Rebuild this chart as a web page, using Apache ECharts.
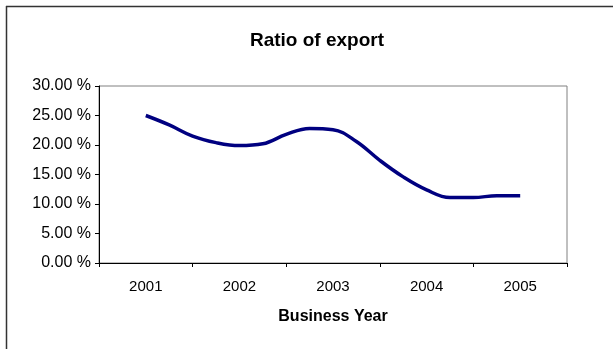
<!DOCTYPE html>
<html>
<head>
<meta charset="utf-8">
<script src="https://cdn.jsdelivr.net/npm/echarts@6/dist/echarts.min.js"></script>
<style>
  html, body { margin: 0; padding: 0; background: #ffffff; }
  #chart { width: 613px; height: 349px; }
</style>
</head>
<body>
<div id="chart"></div>
<script>
// Business years shown on the category axis
var years = ['2001', '2002', '2003', '2004', '2005'];

// Export ratio (%) sampled each quarter, from mid-2001 to mid-2005
var exportRatio = [25.0, 23.4, 21.5, 20.4, 19.9, 20.2, 21.8, 22.8, 22.6,
                   20.6, 17.4, 14.6, 12.4, 11.1, 11.1, 11.4, 11.4];

// Value-axis ticks
var yMin = 0, yMax = 30, yStep = 5;

// Each sample sits a quarter of a year after the previous one,
// starting at the centre of the first year's category slot.
var linePoints = exportRatio.map(function (v, i) {
  return [0.5 + i * 0.25, v];
});

var font = 'Liberation Sans, Arial, sans-serif';
var chart = echarts.init(document.getElementById('chart'), null, { renderer: 'canvas' });

chart.setOption({
  backgroundColor: '#ffffff',
  animation: false,
  title: {
    text: 'Ratio of export',
    left: 312,
    top: 26,
    textAlign: 'center',
    textStyle: { fontFamily: font, fontSize: 19, fontWeight: 'bold', color: '#000' }
  },
  graphic: [
    { type: 'line', shape: { x1: 6.5, y1: 6, x2: 6.5, y2: 349 },
      style: { stroke: '#333', lineWidth: 1.5 } },
    { type: 'line', shape: { x1: 6, y1: 6.5, x2: 613, y2: 6.5 },
      style: { stroke: '#333', lineWidth: 1.5 } }
  ],
  grid: {
    left: 99, top: 86, right: 46, bottom: 86,
    show: true, borderColor: '#808080', borderWidth: 1, backgroundColor: '#ffffff'
  },
  xAxis: [
    {
      type: 'category',
      data: years,
      boundaryGap: true,
      name: 'Business Year',
      nameLocation: 'middle',
      nameGap: 46,
      nameTextStyle: { fontFamily: font, fontSize: 16, fontWeight: 'bold', color: '#000' },
      axisLine: { lineStyle: { color: '#000', width: 1 } },
      axisTick: { show: true, length: 4, lineStyle: { color: '#000' } },
      axisLabel: { fontFamily: font, fontSize: 15, color: '#000', margin: 16 },
      splitLine: { show: false }
    },
    {
      type: 'value',
      min: 0,
      max: years.length,
      show: false
    }
  ],
  yAxis: {
    type: 'value',
    min: yMin,
    max: yMax,
    interval: yStep,
    axisLine: { show: true, lineStyle: { color: '#000', width: 1 } },
    axisTick: { show: true, length: 4, lineStyle: { color: '#000' } },
    axisLabel: {
      fontFamily: font, fontSize: 16, color: '#000', margin: 8,
      formatter: function (v) { return v.toFixed(2) + ' %'; }
    },
    splitLine: { show: false }
  },
  series: [{
    type: 'line',
    xAxisIndex: 1,
    data: linePoints,
    smooth: 0.4,
    showSymbol: false,
    lineStyle: { color: '#000080', width: 3.5 },
    itemStyle: { color: '#000080' }
  }]
});
</script>
</body>
</html>
